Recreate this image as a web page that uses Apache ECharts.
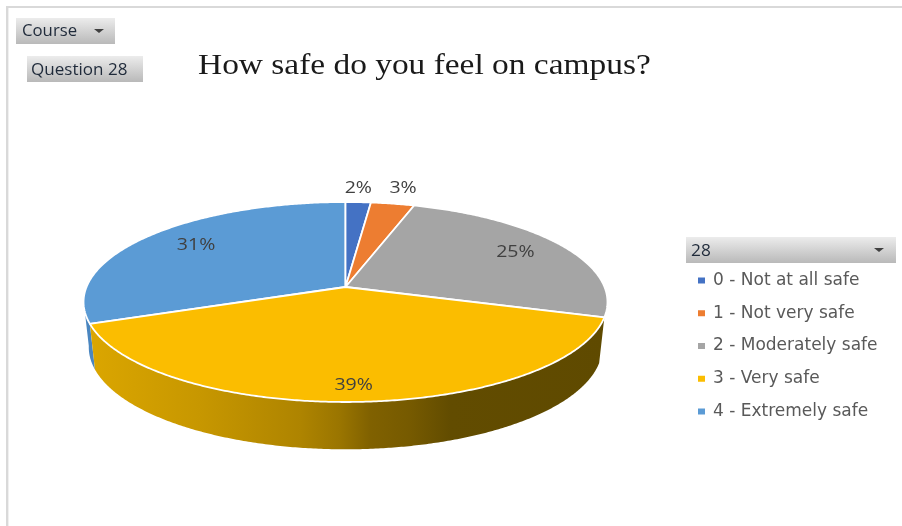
<!DOCTYPE html>
<html><head><meta charset="utf-8">
<script src="https://cdn.jsdelivr.net/npm/echarts@6/dist/echarts.min.js"></script>
<style>html,body{margin:0;padding:0;background:#fff}#c{width:902px;height:526px}</style>
</head><body><div id="c"></div>
<script>
const categories = ['0 - Not at all safe','1 - Not very safe','2 - Moderately safe','3 - Very safe','4 - Extremely safe'];
const values = [1.8, 3.1, 24.9, 39.4, 30.8];
const colors = ['#4472C4','#ED7D31','#A5A5A5','#FBBD00','#5B9BD5'];
const chartTitle = 'How safe do you feel on campus?';
const courseLabel = 'Course';
const questionLabel = 'Question 28';
const legendHeader = '28';

const labelRadius = [1.19,1.21,0.78,0.872,0.745];
const labelShift = [[-2,0],[2,0],[0,-1],[0,0],[0,-3]];
const CX=345.5,CY=287,A=97.75,B=259,K=0.15;
const total = values.reduce((a,b)=>a+b,0);
function proj(frac,r){
  const t=frac*2*Math.PI,u=r*Math.sin(t),v=-r*Math.cos(t),w=1-K*v;
  return [CX+B*u/w,CY+A*v/w];
}
function low(p){return [CX+(p[0]-CX)*0.98,CY+(p[1]-CY)*1.02+45];}
function arc(f0,f1,map){
  const n=Math.max(2,Math.ceil((f1-f0)*720)),pts=[];
  for(let i=0;i<=n;i++){const p=proj(f0+(f1-f0)*i/n,1);pts.push(map?map(p):p);}
  return pts;
}
const wallFill={type:'linear',global:true,x:89,y:0,x2:605,y2:0,colorStops:[
  {offset:0,color:'#DBA600'},{offset:0.215,color:'#C79700'},{offset:0.41,color:'#AE8400'},
  {offset:0.486,color:'#9A7500'},{offset:0.545,color:'#806100'},{offset:0.622,color:'#765A00'},
  {offset:0.70,color:'#624C00'},{offset:1,color:'#5F4A00'}]};
const sideFront=[0.298,0.728];
function renderSlice(i){
  return function(params,api){
    const val=api.value(0);
    let start=0;for(let k=0;k<i;k++)start+=values[k]/total;
    const end=start+val/total,children=[];
    const a=Math.max(start,sideFront[0]),b=Math.min(end,sideFront[1]);
    if(b>a){
      const top=arc(a,b),bot=arc(a,b,low).reverse();
      children.push({type:'polygon',shape:{points:top.concat(bot)},
        style:{fill:i===3?wallFill:'#4A86C0',stroke:'none'}});
    }
    children.push({type:'polygon',shape:{points:[[CX,CY]].concat(arc(start,end))},
      style:{fill:colors[i],stroke:'#fff',lineWidth:1.8,lineJoin:'round'}});
    const m=proj((start+end)/2,labelRadius[i]);
    children.push({type:'text',z2:50,x:m[0]+labelShift[i][0],y:m[1]+labelShift[i][1],scaleX:1.22,style:{x:0,y:0,text:Math.round(val)+'%',
      align:'center',verticalAlign:'middle',fill:'#404040',font:'16px "Open Sans"'}});
    return {type:'group',children};
  };
}
const zOrder=[2,2,2,3,1];
const series=categories.map((name,i)=>({
  type:'custom',name,coordinateSystem:'none',z:zOrder[i],silent:true,animation:false,
  renderItem:renderSlice(i),data:[[values[i]]],itemStyle:{color:colors[i]}
}));
const btnFill={type:'linear',x:0,y:0,x2:0,y2:1,colorStops:[{offset:0,color:'#ECECEC'},{offset:1,color:'#B9B9B9'}]};
function box(x,y,w,h){return {type:'rect',shape:{x,y,width:w,height:h},style:{fill:btnFill},z:1};}
function tri(x,y){return {type:'polygon',shape:{points:[[x,y],[x+10,y],[x+5,y+4]]},style:{fill:'#404040'},z:2};}
function label(x,y,text,size,sx){return {type:'text',x,y,scaleX:sx,style:{text,fill:'#1F2A3A',font:size+'px "Open Sans"',verticalAlign:'middle',align:'left'},z:2};}
const chart=echarts.init(document.getElementById('c'),null,{renderer:'canvas'});
chart.setOption({
  animation:false,
  backgroundColor:'#fff',
  legend:{orient:'vertical',left:693,top:265,itemWidth:7,itemHeight:6,itemGap:11.75,
    data:categories,icon:'rect',selectedMode:false,
    textStyle:{color:'#595959',fontFamily:'DejaVu Sans',fontSize:17,lineHeight:21,padding:[0,0,0,3]}},
  series,
  graphic:[
    {type:'rect',shape:{x:7,y:6,width:895,height:2},style:{fill:'#D9D9D9'}},
    {type:'rect',shape:{x:6,y:6,width:2.4,height:520},style:{fill:'#D9D9D9'}},
    box(16,18,99,26),label(22,32,courseLabel,15.5,1.08),tri(94,29),
    box(27,56,116,26),label(31,70.5,questionLabel,15.5,1.1),
    box(686,237,210,26),label(691,251,legendHeader,16,1.08),tri(874,248),
    {type:'text',x:198,y:66,scaleX:1.152,scaleY:1,style:{text:chartTitle,fill:'#1a1a1a',
      font:'29px "Liberation Serif"',verticalAlign:'middle',align:'left'},z:2}
  ]
});
</script></body></html>
